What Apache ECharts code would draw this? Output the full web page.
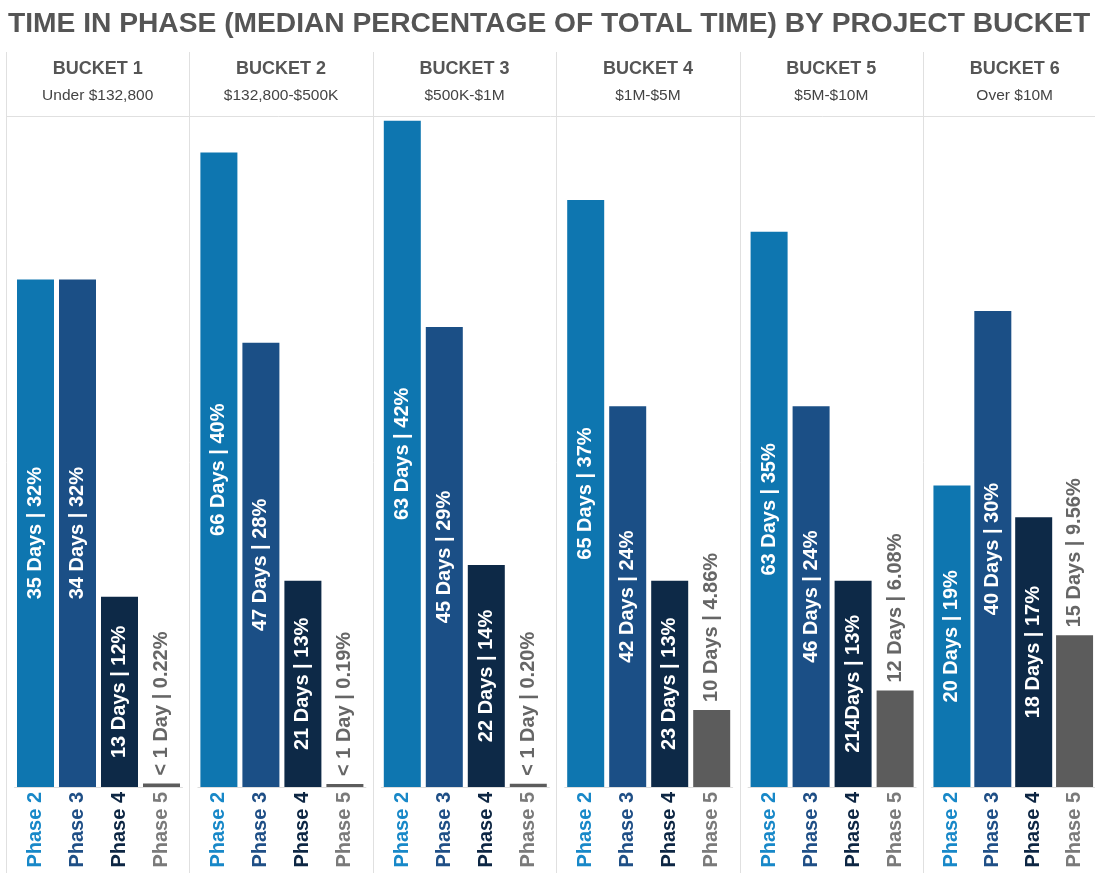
<!DOCTYPE html>
<html>
<head>
<meta charset="utf-8">
<script src="https://cdn.jsdelivr.net/npm/echarts@6/dist/echarts.min.js"></script>
<style>
  html, body { margin: 0; padding: 0; background: #fff; }
  #chart { width: 1095px; height: 873px; }
</style>
</head>
<body>
<div id="chart"></div>
<script>
// Median time in each phase, per project-size bucket
const chartTitle = 'TIME IN PHASE (MEDIAN PERCENTAGE OF TOTAL TIME) BY PROJECT BUCKET';
const buckets = ['BUCKET 1', 'BUCKET 2', 'BUCKET 3', 'BUCKET 4', 'BUCKET 5', 'BUCKET 6'];
const bucketRanges = ['Under $132,800', '$132,800-$500K', '$500K-$1M', '$1M-$5M', '$5M-$10M', 'Over $10M'];
const phases = ['Phase 2', 'Phase 3', 'Phase 4', 'Phase 5'];

// percentage of total time, one row per bucket (Phase 2..5)
const pctBucket1 = [32, 32, 12, 0.22];
const pctBucket2 = [40, 28, 13, 0.19];
const pctBucket3 = [42, 29, 14, 0.20];
const pctBucket4 = [37, 24, 13, 4.86];
const pctBucket5 = [35, 24, 13, 6.08];
const pctBucket6 = [19, 30, 17, 9.56];

// median duration text, one row per bucket (Phase 2..5)
const daysBucket1 = ['35 Days', '34 Days', '13 Days', '< 1 Day'];
const daysBucket2 = ['66 Days', '47 Days', '21 Days', '< 1 Day'];
const daysBucket3 = ['63 Days', '45 Days', '22 Days', '< 1 Day'];
const daysBucket4 = ['65 Days', '42 Days', '23 Days', '10 Days'];
const daysBucket5 = ['63 Days', '46 Days', '214Days', '12 Days'];
const daysBucket6 = ['20 Days', '40 Days', '18 Days', '15 Days'];

const pctRows = [pctBucket1, pctBucket2, pctBucket3, pctBucket4, pctBucket5, pctBucket6];
const dayRows = [daysBucket1, daysBucket2, daysBucket3, daysBucket4, daysBucket5, daysBucket6];

const barColors = ['#0e76b0', '#1b4f86', '#0d2947', '#5c5c5c'];
const phaseLabelColors = ['#1888c8', '#1f4f86', '#0d2643', '#7a7a7a'];
const FONT = '"Liberation Sans", Arial, Helvetica, sans-serif';

const panelX0 = 6, panelW = 183.4, plotTop = 116, plotBottom = 787, H = 873, W = 1095;

function fmtPct(v) {
  return (v >= 10 ? String(v) : v.toFixed(2)) + '%';
}

const grids = [], xAxes = [], yAxes = [], series = [], graphics = [];

graphics.push({
  type: 'text', left: 8, top: 10,
  style: { text: chartTitle, font: 'bold 28.2px ' + FONT, fill: '#555555' }
});
graphics.push({
  type: 'line', silent: true,
  shape: { x1: panelX0, y1: plotTop + 0.5, x2: W, y2: plotTop + 0.5 },
  style: { stroke: '#e0e0e0', lineWidth: 1 }
});

buckets.forEach((name, i) => {
  const x0 = panelX0 + i * panelW;
  const cx = x0 + panelW / 2;
  graphics.push({
    type: 'line', silent: true,
    shape: { x1: Math.round(x0) + 0.5, y1: 52, x2: Math.round(x0) + 0.5, y2: H },
    style: { stroke: '#e0e0e0', lineWidth: 1 }
  });
  graphics.push({
    type: 'text', x: cx, y: 69,
    style: { text: name, font: 'bold 18px ' + FONT, fill: '#555555', align: 'center', verticalAlign: 'middle' }
  });
  graphics.push({
    type: 'text', x: cx, y: 96,
    style: { text: bucketRanges[i], font: '15.5px ' + FONT, fill: '#444444', align: 'center', verticalAlign: 'middle' }
  });

  grids.push({ left: x0 + 8.5, width: 168, top: plotTop, height: plotBottom - plotTop });
  xAxes.push({
    type: 'category', gridIndex: i, data: phases,
    axisLine: { show: true, lineStyle: { color: '#dddddd', width: 1 } },
    axisTick: { show: false },
    axisLabel: {
      rotate: 90, margin: 5, fontSize: 20, fontWeight: 'bold', fontFamily: FONT,
      color: (val) => phaseLabelColors[phases.indexOf(val)]
    }
  });
  yAxes.push({
    type: 'value', gridIndex: i, min: 0, max: 42.3,
    show: false, splitLine: { show: false }
  });
  series.push({
    type: 'bar', xAxisIndex: i, yAxisIndex: i, barWidth: 37,
    data: pctRows[i].map((v, k) => {
      const text = dayRows[i][k] + ' | ' + fmtPct(v);
      const outside = k === 3;
      return {
        value: v,
        itemStyle: { color: barColors[k] },
        label: outside ? {
          show: true, position: 'top', distance: 8, rotate: 90, align: 'left', verticalAlign: 'middle',
          color: '#666666', fontSize: 20, fontWeight: 'bold', fontFamily: FONT,
          formatter: () => text
        } : {
          show: true, position: 'inside', rotate: 90, align: 'center', verticalAlign: 'middle',
          color: '#ffffff', fontSize: 20, fontWeight: 'bold', fontFamily: FONT,
          formatter: () => text
        }
      };
    })
  });
});

const chart = echarts.init(document.getElementById('chart'), null, { renderer: 'canvas' });
chart.setOption({
  animation: false,
  backgroundColor: '#ffffff',
  grid: grids, xAxis: xAxes, yAxis: yAxes, series: series,
  graphic: graphics
});
</script>
</body>
</html>
